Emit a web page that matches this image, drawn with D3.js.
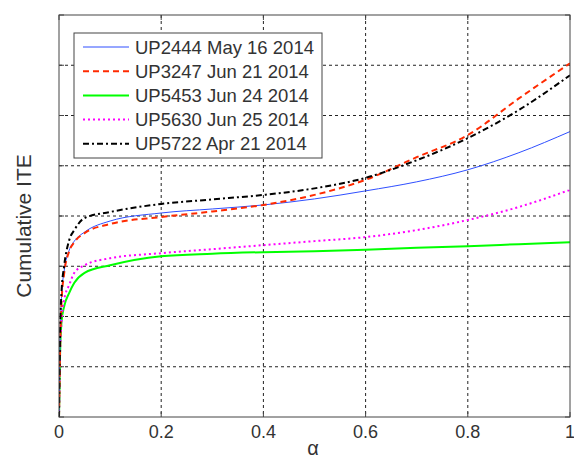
<!DOCTYPE html>
<html>
<head>
<meta charset="utf-8">
<script src="https://cdn.jsdelivr.net/npm/d3@7"></script>
<style>
  body { margin: 0; background: #fff; }
  svg { display: block; font-family: "Liberation Sans", Arial, sans-serif; }
</style>
</head>
<body>
<svg width="574" height="457"></svg>
<script>
// alpha sample points shared by every curve
const alphas = [0, 0.002, 0.005, 0.01, 0.02, 0.03, 0.05, 0.1, 0.2, 0.3, 0.4, 0.5, 0.6, 0.7, 0.8, 0.9, 1];

const up2444 = [0, 1.5, 2.4, 2.9, 3.32, 3.5, 3.68, 3.9, 4.06, 4.14, 4.22, 4.34, 4.5, 4.68, 4.92, 5.26, 5.68];
const up3247 = [0, 1.3, 2.3, 2.85, 3.3, 3.48, 3.66, 3.84, 3.98, 4.09, 4.22, 4.42, 4.72, 5.17, 5.61, 6.34, 7.04];
const up5453 = [0, 1.2, 1.9, 2.2, 2.47, 2.67, 2.87, 3.02, 3.2, 3.25, 3.28, 3.3, 3.33, 3.37, 3.4, 3.44, 3.48];
const up5630 = [0, 1.2, 1.9, 2.33, 2.63, 2.87, 3.02, 3.16, 3.26, 3.34, 3.42, 3.5, 3.58, 3.72, 3.92, 4.18, 4.52];
const up5722 = [0, 1.6, 2.5, 3.0, 3.52, 3.72, 3.96, 4.08, 4.24, 4.33, 4.42, 4.55, 4.76, 5.11, 5.55, 6.11, 6.8];

const seriesNames = ["UP2444 May 16 2014", "UP3247 Jun 21 2014", "UP5453 Jun 24 2014", "UP5630 Jun 25 2014", "UP5722 Apr 21 2014"];
const xTicks = [0, 0.2, 0.4, 0.6, 0.8, 1];
const xTickLabels = ["0", "0.2", "0.4", "0.6", "0.8", "1"];
const yTicks = [0, 1, 2, 3, 4, 5, 6, 7, 8];

let svg = d3.select("svg");
let margin = { top: 15, right: 4, bottom: 40, left: 59 };
let W = 574 - margin.left - margin.right;
let H = 457 - margin.top - margin.bottom;

let x = d3.scaleLinear().domain([0, 1]).range([0, W]);
let y = d3.scaleLinear().domain([0, 8]).range([H, 0]);

let g = svg.append("g").attr("transform", `translate(${margin.left},${margin.top})`);

// dashed grid
g.selectAll(".gx").data(xTicks.slice(1, -1)).enter().append("line")
  .attr("x1", d => x(d)).attr("x2", d => x(d))
  .attr("y1", 0).attr("y2", H)
  .attr("stroke", "#222").attr("stroke-dasharray", "3,3");
g.selectAll(".gy").data(yTicks.slice(1, -1)).enter().append("line")
  .attr("x1", 0).attr("x2", W)
  .attr("y1", d => y(d)).attr("y2", d => y(d))
  .attr("stroke", "#222").attr("stroke-dasharray", "3,3");

// inward ticks on all four sides
let tl = 5;
xTicks.forEach(t => {
  g.append("line").attr("x1", x(t)).attr("x2", x(t)).attr("y1", H).attr("y2", H - tl).attr("stroke", "#444");
  g.append("line").attr("x1", x(t)).attr("x2", x(t)).attr("y1", 0).attr("y2", tl).attr("stroke", "#444");
});
yTicks.forEach(t => {
  g.append("line").attr("x1", 0).attr("x2", tl).attr("y1", y(t)).attr("y2", y(t)).attr("stroke", "#444");
  g.append("line").attr("x1", W).attr("x2", W - tl).attr("y1", y(t)).attr("y2", y(t)).attr("stroke", "#444");
});

// x tick labels
g.selectAll(".xl").data(xTicks).enter().append("text")
  .attr("x", d => x(d)).attr("y", H + 21)
  .attr("text-anchor", "middle")
  .attr("font-size", 18).attr("fill", "#333")
  .text((d, i) => xTickLabels[i]);

// curves
svg.append("defs").append("clipPath").attr("id", "clip")
  .append("rect").attr("width", W).attr("height", H);

let styles = [
  { data: up2444, color: "#2f4fff", width: 1, dash: null },
  { data: up3247, color: "#ff2a00", width: 2, dash: "6,4" },
  { data: up5453, color: "#00ff00", width: 2, dash: null },
  { data: up5630, color: "#ff00ff", width: 2, dash: "2,3" },
  { data: up5722, color: "#000000", width: 2, dash: "6,3,2,3" }
];

let line = d3.line().x(d => x(d[0])).y(d => y(d[1])).curve(d3.curveMonotoneX);
let plot = g.append("g").attr("clip-path", "url(#clip)");
// draw order picked so the overlaps look like the original
[2, 3, 0, 1, 4].forEach(i => {
  let s = styles[i];
  plot.append("path")
    .datum(alphas.map((a, j) => [a, s.data[j]]))
    .attr("d", line)
    .attr("fill", "none")
    .attr("stroke", s.color)
    .attr("stroke-width", s.width)
    .attr("stroke-dasharray", s.dash);
});

// axes box
g.append("rect").attr("width", W).attr("height", H)
  .attr("fill", "none").attr("stroke", "#444");

// legend
let lg = svg.append("g").attr("transform", "translate(74,33)");
lg.append("rect").attr("width", 248).attr("height", 125)
  .attr("fill", "#fff").attr("stroke", "#444");
styles.forEach((s, i) => {
  let yy = 14 + i * 24.2;
  lg.append("line").attr("x1", 9).attr("x2", 55).attr("y1", yy).attr("y2", yy)
    .attr("stroke", s.color).attr("stroke-width", s.width).attr("stroke-dasharray", s.dash);
  lg.append("text").attr("x", 61).attr("y", yy + 6.5)
    .attr("font-size", 18.5).attr("fill", "#333").text(seriesNames[i]);
});

// axis labels
svg.append("text")
  .attr("transform", "translate(31,226) rotate(-90)")
  .attr("text-anchor", "middle")
  .attr("font-size", 21).attr("fill", "#333")
  .text("Cumulative ITE");
svg.append("text")
  .attr("x", 313).attr("y", 455)
  .attr("text-anchor", "middle")
  .attr("font-size", 20).attr("fill", "#333")
  .text("α");
</script>
</body>
</html>
